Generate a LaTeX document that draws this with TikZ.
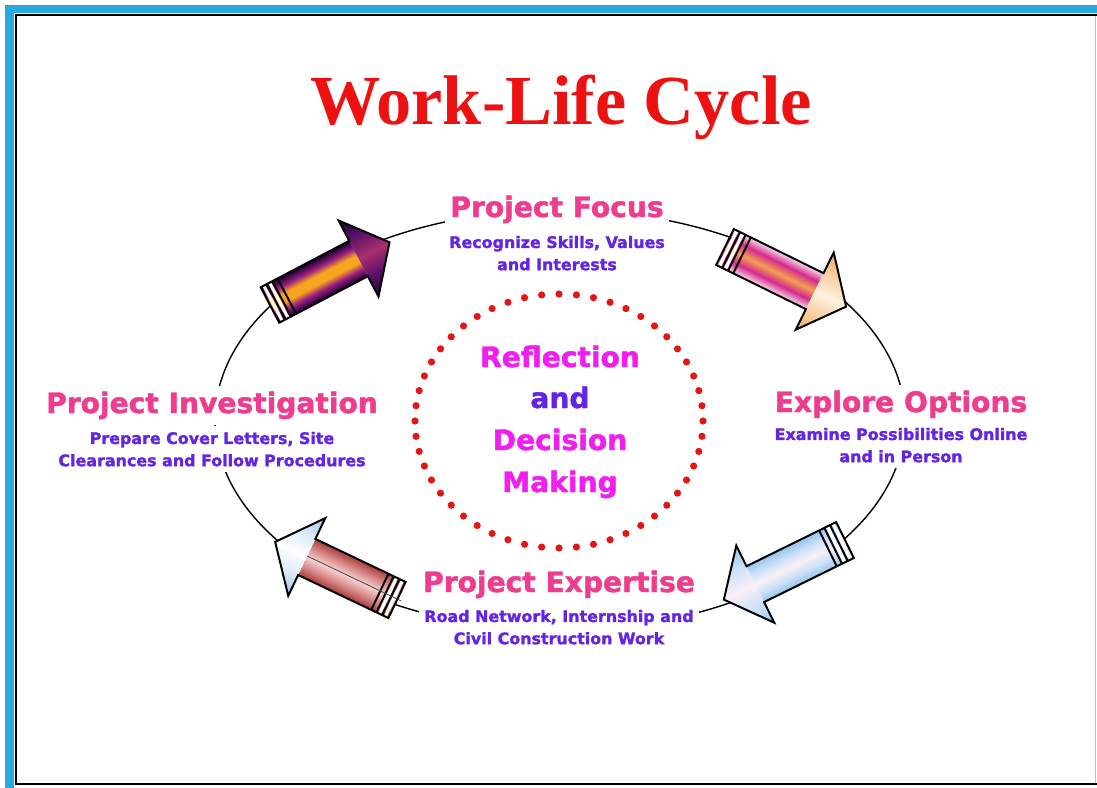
\documentclass[tikz,border=0pt]{standalone}
\usepackage{fontspec}
\setmainfont{Liberation Serif}
\newfontfamily\roundfont{DejaVu Sans}[BoldFeatures={FakeBold=1.6}]

\definecolor{framecyan}{HTML}{2AA8E0}
\definecolor{titlered}{HTML}{EE1111}
\definecolor{headpink}{HTML}{EE3D8E}
\definecolor{subpurple}{HTML}{6424E4}
\definecolor{midmagenta}{HTML}{F01EEE}
\definecolor{dotred}{HTML}{E51515}

\definecolor{infernoedge}{HTML}{1E0432}
\definecolor{infernomid}{HTML}{9A1E80}
\definecolor{infernocore}{HTML}{F7A41E}
\definecolor{duskmid}{HTML}{5A1068}
\definecolor{duskcore}{HTML}{A8306E}
\definecolor{pinkedge}{HTML}{F8DCEA}
\definecolor{pinkmid}{HTML}{D42A8E}
\definecolor{pinkcore}{HTML}{F2A050}
\definecolor{peachedge}{HTML}{EFA860}
\definecolor{peachmid}{HTML}{F8D0A0}
\definecolor{peachcore}{HTML}{FDF0E0}
\definecolor{iceedge}{HTML}{96C4EE}
\definecolor{icemid}{HTML}{CCE2F8}
\definecolor{icecore}{HTML}{FBEFF6}
\definecolor{brickedge}{HTML}{A83C3C}
\definecolor{brickmid}{HTML}{D88888}
\definecolor{brickcore}{HTML}{F6D0D0}
\definecolor{frostedge}{HTML}{9CC4E4}
\definecolor{frostmid}{HTML}{DCEAF6}
\definecolor{frostcore}{HTML}{FFFFFF}

% shading across an arrow: edge, mid, core, mid, edge
\newcommand{\acrossshade}[4]{%
  \pgfdeclareverticalshading{#1}{100bp}{color(0bp)=(#2); color(25bp)=(#2);
    color(37.5bp)=(#3); color(50bp)=(#4); color(62.5bp)=(#3);
    color(75bp)=(#2); color(100bp)=(#2)}}
\pgfdeclareverticalshading{infernoshade}{100bp}{color(0bp)=(infernoedge);
  color(26bp)=(infernoedge); color(36bp)=(infernomid); color(45bp)=(infernocore);
  color(55bp)=(infernocore); color(64bp)=(infernomid); color(74bp)=(infernoedge);
  color(100bp)=(infernoedge)}
\acrossshade{duskshade}{infernoedge}{duskmid}{duskcore}
\acrossshade{pinkshade}{pinkedge}{pinkmid}{pinkcore}
\acrossshade{peachshade}{peachedge}{peachmid}{peachcore}
\acrossshade{iceshade}{iceedge}{icemid}{icecore}
\acrossshade{brickshade}{brickedge}{brickmid}{brickcore}
\acrossshade{frostshade}{frostedge}{frostmid}{frostcore}

% block arrow: tail, angle, shaft shading, head shading
\newcommand{\cyclearrow}[4]{%
  \begin{scope}[transform canvas={shift={#1},rotate=#2}]
    \shade[shading=#3] (0,-20) rectangle (100,20);
    \shade[shading=#4] (100,-43) -- (135,0) -- (100,43) -- cycle;
    \fill[white] (2,-20) rectangle (5,20) (8.5,-20) rectangle (11.5,20);
    \draw[arrowline] (0,-20) -- (100,-20) -- (100,-43) -- (135,0) -- (100,43)
      -- (100,20) -- (0,20) -- cycle;
    \draw[arrowline] (6.8,-20) -- (6.8,20) (13.2,-20) -- (13.2,20) (19,-20) -- (19,20);
  \end{scope}}

\begin{document}
\begin{tikzpicture}[x=0.025cm, y=-0.025cm,
  titletext/.style={font=\bfseries\fontsize{50}{56}\selectfont, text=titlered, inner sep=0pt},
  headtext/.style={font=\roundfont\bfseries\fontsize{20}{24}\selectfont, text=headpink, fill=white, inner sep=4pt},
  subtext/.style={font=\roundfont\bfseries\fontsize{11.3}{15.8}\selectfont, text=subpurple, align=center, fill=white, inner sep=4pt},
  midtext/.style={font=\roundfont\bfseries\fontsize{20}{24}\selectfont, text=midmagenta, inner sep=0pt},
  arrowline/.style={line width=1.4pt, line join=miter},
  cycleline/.style={line width=1pt}]
\useasboundingbox[fill=white] (0,0) rectangle (1097,788);

% frame
\fill[framecyan] (5,5) rectangle (1097,13);
\fill[framecyan] (5,5) rectangle (14,788);
\draw[line width=1.6pt] (1097,15) -- (16,15) -- (16,784) -- (1097,784);
\draw[black!25, line width=0.6pt] (1095,16) -- (1095,783);

\node[titletext, anchor=base] (title) at (561,125) {Work-Life Cycle};

% cycle
\draw[cycleline] (560,420) ellipse [x radius=345, y radius=210];

\node[headtext, anchor=base] (focus) at (557,217) {Project Focus};
\node[subtext, anchor=north] (focusnote) at (557,230) {Recognize Skills, Values\\and Interests};

\node[headtext, anchor=base] (explore) at (901,412) {Explore Options};
\node[subtext, anchor=north] (explorenote) at (901,422) {Examine Possibilities Online\\and in Person};

\node[headtext, anchor=base] (expertise) at (559,592) {Project Expertise};
\node[subtext, anchor=north] (expertisenote) at (559,604) {Road Network, Internship and\\Civil Construction Work};

\node[headtext, anchor=base] (invest) at (212,413) {Project Investigation};
\node[subtext, anchor=north] (investnote) at (212,426) {Prepare Cover Letters, Site\\Clearances and Follow Procedures};

% reflection ring
\foreach \k in {0,...,51}
  \fill[dotred] ({559+144*cos(6.9231*\k)},{421+127*sin(6.9231*\k)}) circle [radius=3.6];

\node[midtext, anchor=base] (reflect) at (560,367) {Reflection};
\node[midtext, anchor=base, text=subpurple] (and) at (560,408) {and};
\node[midtext, anchor=base] (decision) at (560,450) {Decision};
\node[midtext, anchor=base] (making) at (560,492) {Making};

% arrows
\cyclearrow{(270,305)}{27.7}{infernoshade}{duskshade}
\cyclearrow{(725,247)}{-26.2}{pinkshade}{peachshade}
\cyclearrow{(845,540)}{206.2}{iceshade}{iceshade}
\cyclearrow{(397,600)}{154.5}{brickshade}{frostshade}
\begin{scope}[transform canvas={shift={(397,600)},rotate=154.5}]
  \draw[black!70, line width=0.6pt] (-4,1) -- (100,1);
\end{scope}

\end{tikzpicture}
\end{document}
